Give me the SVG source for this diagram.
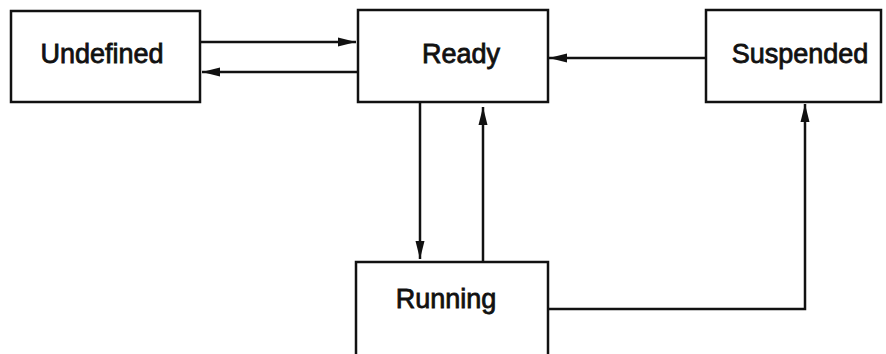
<svg xmlns="http://www.w3.org/2000/svg" width="886" height="354" viewBox="0 0 886 354">
<style>
.box{fill:#fff;stroke:#111;stroke-width:2.5}
.lbl{font-family:"Liberation Sans",Arial,sans-serif;font-size:27px;fill:#111;stroke:#111;stroke-width:0.8;text-anchor:middle}
.edge{fill:none;stroke:#111;stroke-width:2.5}
</style>
<defs>
<marker id="arr" markerUnits="userSpaceOnUse" markerWidth="20" markerHeight="14" refX="18" refY="7" orient="auto">
<path d="M0,2.5 L18,7 L0,11.5 Z" fill="#111"/>
</marker>
</defs>
<g id="undefined"><rect class="box" x="11" y="11" width="189" height="91"/><text class="lbl" x="102" y="63">Undefined</text></g>
<g id="ready"><rect class="box" x="358" y="10" width="190" height="92"/><text class="lbl" x="461" y="63">Ready</text></g>
<g id="suspended"><rect class="box" x="706" y="10" width="175" height="92"/><text class="lbl" x="800" y="63">Suspended</text></g>
<g id="running"><rect class="box" x="356" y="262" width="192" height="95"/><text class="lbl" x="446" y="308">Running</text></g>
<g id="connectors">
<line class="edge" x1="200" y1="42" x2="356" y2="42" marker-end="url(#arr)"/>
<line class="edge" x1="358" y1="72" x2="202" y2="72" marker-end="url(#arr)"/>
<line class="edge" x1="706" y1="58" x2="549" y2="58" marker-end="url(#arr)"/>
<line class="edge" x1="420" y1="102" x2="420" y2="259" marker-end="url(#arr)"/>
<line class="edge" x1="483" y1="262" x2="483" y2="107" marker-end="url(#arr)"/>
<polyline class="edge" points="548,309 805,309 805,104" marker-end="url(#arr)"/>
</g>
</svg>
